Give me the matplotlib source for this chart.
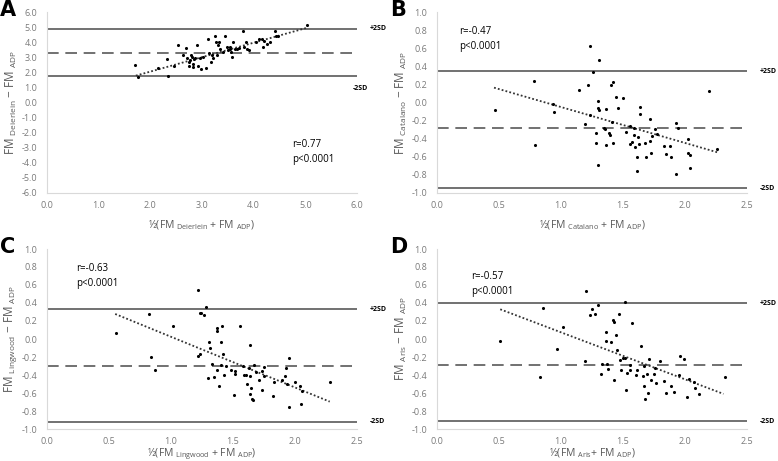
"""Bland-Altman plots: four skinfold equations vs ADP fat mass."""
import matplotlib
matplotlib.use("Agg")
import matplotlib.pyplot as plt
import matplotlib.transforms as mtransforms

plt.rcParams["font.family"] = ["Open Sans", "DejaVu Sans"]
plt.rcParams["mathtext.fontset"] = "custom"
plt.rcParams["mathtext.rm"] = "Open Sans"

# ---- panel A: Deierlein ----
a_x = [1.70, 1.77, 2.14, 2.33, 2.35, 2.45, 2.53, 2.64, 2.69, 2.70, 2.74, 2.75, 2.76,
       2.78, 2.80, 2.82, 2.83, 2.84, 2.86, 2.91, 2.93, 2.96, 2.99, 3.01, 3.08, 3.12,
       3.14, 3.18, 3.20, 3.21, 3.25, 3.27, 3.29, 3.31, 3.33, 3.35, 3.41, 3.45, 3.49,
       3.51, 3.54, 3.55, 3.57, 3.59, 3.60, 3.64, 3.67, 3.72, 3.80, 3.81, 3.85, 3.87,
       3.90, 4.04, 4.11, 4.17, 4.18, 4.20, 4.26, 4.31, 4.41, 4.43, 4.48, 5.03]
a_y = [2.50, 1.66, 2.30, 2.90, 1.77, 2.45, 3.82, 3.12, 3.63, 2.94, 2.67, 2.41, 2.83,
       3.16, 3.00, 2.56, 2.34, 2.89, 2.94, 3.82, 2.45, 2.94, 2.23, 3.00, 2.28, 4.22,
       3.29, 2.67, 3.16, 2.94, 4.40, 4.00, 3.12, 3.78, 4.00, 3.56, 3.34, 4.40, 3.67,
       3.45, 3.56, 3.67, 3.34, 3.00, 4.00, 3.56, 3.56, 3.60, 4.71, 3.67, 4.00, 3.56,
       3.47, 4.00, 4.22, 4.22, 3.67, 4.11, 3.89, 4.00, 4.71, 4.40, 4.40, 5.15]

# ---- panel B: Catalano ----
b_x = [0.465, 0.785, 0.79, 0.935, 0.946, 1.148, 1.19, 1.22, 1.23, 1.237, 1.255, 1.28,
       1.28, 1.30, 1.30, 1.30, 1.31, 1.31, 1.344, 1.355, 1.36, 1.366, 1.39, 1.393,
       1.40, 1.418, 1.41, 1.42, 1.44, 1.46, 1.50, 1.524, 1.554, 1.56, 1.57, 1.586,
       1.59, 1.60, 1.61, 1.613, 1.62, 1.626, 1.64, 1.64, 1.68, 1.688, 1.715, 1.72,
       1.726, 1.734, 1.76, 1.774, 1.83, 1.85, 1.88, 1.89, 1.925, 1.93, 1.94, 2.024,
       2.024, 2.038, 2.043, 2.19, 2.26]
b_y = [-0.08, 0.237, -0.474, -0.013, -0.105, 0.134, -0.234, 0.197, -0.142, 0.62,
       0.336, -0.448, -0.337, -0.058, 0.013, -0.696, 0.472, -0.08, -0.282, -0.297,
       -0.07, -0.474, -0.337, -0.363, 0.19, 0.222, -0.22, -0.448, 0.06, -0.062, 0.053,
       -0.326, -0.263, -0.462, -0.437, -0.278, -0.356, -0.49, -0.757, -0.597, -0.38,
       -0.462, -0.05, -0.124, -0.448, -0.60, -0.18, -0.425, -0.56, -0.371, -0.29,
       -0.352, -0.486, -0.566, -0.486, -0.597, -0.788, -0.227, -0.282, -0.40, -0.556,
       -0.726, -0.585, 0.123, -0.51]

# ---- panel C: Lingwood ----
c_x = [0.556, 0.825, 0.84, 0.868, 1.02, 1.215, 1.215, 1.23, 1.245, 1.237, 1.27, 1.28,
       1.30, 1.31, 1.317, 1.33, 1.35, 1.37, 1.37, 1.37, 1.40, 1.40, 1.39, 1.41, 1.42,
       1.425, 1.44, 1.48, 1.505, 1.52, 1.52, 1.555, 1.58, 1.586, 1.605, 1.61, 1.626,
       1.635, 1.64, 1.64, 1.645, 1.65, 1.66, 1.667, 1.688, 1.71, 1.73, 1.734, 1.747,
       1.753, 1.82, 1.83, 1.895, 1.92, 1.93, 1.935, 1.95, 1.95, 2.0, 2.04, 2.05,
       2.056, 2.285]
c_y = [0.067, 0.281, -0.2, -0.344, 0.148, -0.193, 0.548, 0.289, 0.289, -0.163, 0.27,
       0.352, -0.433, -0.037, -0.1, -0.274, -0.422, -0.34, 0.085, 0.122, -0.285,
       -0.037, -0.519, 0.141, -0.163, -0.404, -0.304, -0.34, -0.619, -0.36, -0.385,
       0.148, -0.304, -0.404, -0.404, -0.496, -0.32, -0.611, -0.415, -0.063, -0.541,
       -0.667, -0.674, -0.285, -0.37, -0.452, -0.36, -0.563, -0.311, -0.407, -0.63,
       -0.481, -0.459, -0.415, -0.322, -0.5, -0.211, -0.756, -0.481, -0.526, -0.726,
       -0.581, -0.474]

# ---- panel D: Aris ----
d_x = [0.51, 0.83, 0.855, 0.97, 1.013, 1.19, 1.205, 1.23, 1.253, 1.277, 1.296, 1.32,
       1.334, 1.366, 1.366, 1.37, 1.376, 1.40, 1.42, 1.43, 1.43, 1.444, 1.45, 1.465,
       1.473, 1.48, 1.50, 1.516, 1.52, 1.527, 1.532, 1.554, 1.56, 1.57, 1.605, 1.613,
       1.645, 1.66, 1.667, 1.667, 1.675, 1.69, 1.70, 1.707, 1.726, 1.747, 1.76, 1.77,
       1.80, 1.834, 1.85, 1.89, 1.91, 1.95, 1.96, 1.995, 2.016, 2.03, 2.07, 2.083,
       2.11, 2.325]
d_y = [-0.02, -0.423, 0.341, -0.114, 0.128, -0.248, 0.538, 0.266, 0.33, 0.277, 0.377,
       -0.393, -0.281, -0.024, 0.08, -0.274, -0.33, -0.032, 0.21, 0.19, -0.453, 0.039,
       -0.117, 0.277, -0.237, -0.341, -0.21, -0.21, 0.415, -0.565, -0.375, -0.341,
       -0.292, 0.173, -0.405, -0.341, -0.073, -0.412, -0.304, -0.527, -0.665, -0.394,
       -0.602, -0.218, -0.46, -0.394, -0.324, -0.49, -0.245, -0.472, -0.598, -0.52,
       -0.594, -0.397, -0.192, -0.218, -0.64, -0.44, -0.479, -0.54, -0.609, -0.423]

# limits of agreement: (+2SD, mean, -2SD)
loa = {"A": (4.90, 3.31, 1.77), "B": (0.348, -0.278, -0.945),
       "C": (0.333, -0.304, -0.922), "D": (0.397, -0.292, -0.914)}
# regression line end points (x0, y0, x1, y1)
reg = {"A": (1.72, 1.78, 5.05, 4.97), "B": (0.46, 0.164, 2.26, -0.55),
       "C": (0.55, 0.278, 2.28, -0.696), "D": (0.51, 0.33, 2.31, -0.61)}
stats = {"A": "r=0.77\np<0.0001", "B": "r=-0.47\np<0.0001",
         "C": "r=-0.63\np<0.0001", "D": "r=-0.57\np<0.0001"}
names = {"A": "Deierlein", "B": "Catalano", "C": "Lingwood", "D": "Aris"}

W, H = 778, 461
fig = plt.figure(figsize=(W / 100, H / 100), dpi=100)


def px_axes(x0, y_top, x1, y_bot):
    return fig.add_axes([x0 / W, 1 - y_bot / H, (x1 - x0) / W, (y_bot - y_top) / H])


panels = {
    "A": (px_axes(47, 12, 357, 193), a_x, a_y),
    "B": (px_axes(437, 12, 747, 193), b_x, b_y),
    "C": (px_axes(47, 249, 357, 429), c_x, c_y),
    "D": (px_axes(437, 249, 747, 429), d_x, d_y),
}

grey = "#595959"
for key, (ax, xs, ys) in panels.items():
    up, mean, lo = loa[key]
    ax.axhline(up, color=grey, lw=1.2)
    ax.axhline(lo, color=grey, lw=1.2)
    ax.axhline(mean, color=grey, lw=1.2, ls=(0, (7, 4)))
    x0, y0, x1, y1 = reg[key]
    ax.plot([x0, x1], [y0, y1], color="#333333", lw=1.3, ls=(0, (1, 1.2)))
    ax.scatter(xs, ys, s=5, color="black", zorder=3, linewidths=0)

    if key == "A":
        ax.set_xlim(0, 6); ax.set_ylim(-6, 6)
        ax.set_xticks([0, 1, 2, 3, 4, 5, 6])
        ax.set_yticks(range(-6, 7))
    else:
        ax.set_xlim(0, 2.5); ax.set_ylim(-1, 1)
        ax.set_xticks([0, 0.5, 1.0, 1.5, 2.0, 2.5])
        ax.set_yticks([-1.0, -0.8, -0.6, -0.4, -0.2, 0.0, 0.2, 0.4, 0.6, 0.8, 1.0])
    ax.xaxis.set_major_formatter(matplotlib.ticker.FormatStrFormatter("%.1f"))
    ax.yaxis.set_major_formatter(matplotlib.ticker.FormatStrFormatter("%.1f"))
    ax.tick_params(axis="y", length=0, labelsize=6.5, colors="#7a7a7a", pad=7)
    ax.tick_params(axis="x", length=0, labelsize=6.5, colors="#7a7a7a", pad=6)
    for s in ["top", "right"]:
        ax.spines[s].set_visible(False)
    for s in ["left", "bottom"]:
        ax.spines[s].set_color("#d9d9d9")
        ax.spines[s].set_linewidth(0.8)

    trans = mtransforms.blended_transform_factory(ax.transAxes, ax.transData)
    ax.text(1.04, up, "+2SD", transform=trans, fontsize=5, fontweight="bold",
            va="center", ha="left")
    if key == "A":
        ax.text(0.985, 0.9, "-2SD", transform=trans, fontsize=5, fontweight="bold",
                va="center", ha="left")
    else:
        ax.text(1.04, lo, "-2SD", transform=trans, fontsize=5, fontweight="bold",
                va="center", ha="left")

    if key == "A":
        ax.text(0.79, 0.30, stats[key], transform=ax.transAxes, fontsize=7,
                va="top", linespacing=1.5)
    elif key == "D":
        ax.text(0.11, 0.88, stats[key], transform=ax.transAxes, fontsize=7,
                va="top", linespacing=1.5)
    else:
        ax.text(0.07 if key == "B" else 0.095, 0.92, stats[key],
                transform=ax.transAxes, fontsize=7, va="top", linespacing=1.5)

    nm = names[key]
    ax.set_ylabel(r"FM $_{\mathrm{%s}}$ $-$ FM $_{\mathrm{ADP}}$" % nm,
                  fontsize=8.5, color=grey, labelpad=2)
    if key == "D":
        xl = r"½(FM $_{\mathrm{%s}}$+ FM $_{\mathrm{ADP}}$)" % nm
    else:
        xl = r"½(FM $_{\mathrm{%s}}$ + FM $_{\mathrm{ADP}}$)" % nm
    ax.set_xlabel(xl, fontsize=7.5, color=grey, labelpad=6 if key in "AB" else 0)

for key, (x, y) in {"A": (0, 0), "B": (390, 0), "C": (0, 237), "D": (390, 237)}.items():
    fig.text(x / W, 1 - y / H, key, fontsize=15, fontweight="bold",
             family="DejaVu Sans", va="top", ha="left")

fig.savefig("out.png", dpi=100)
